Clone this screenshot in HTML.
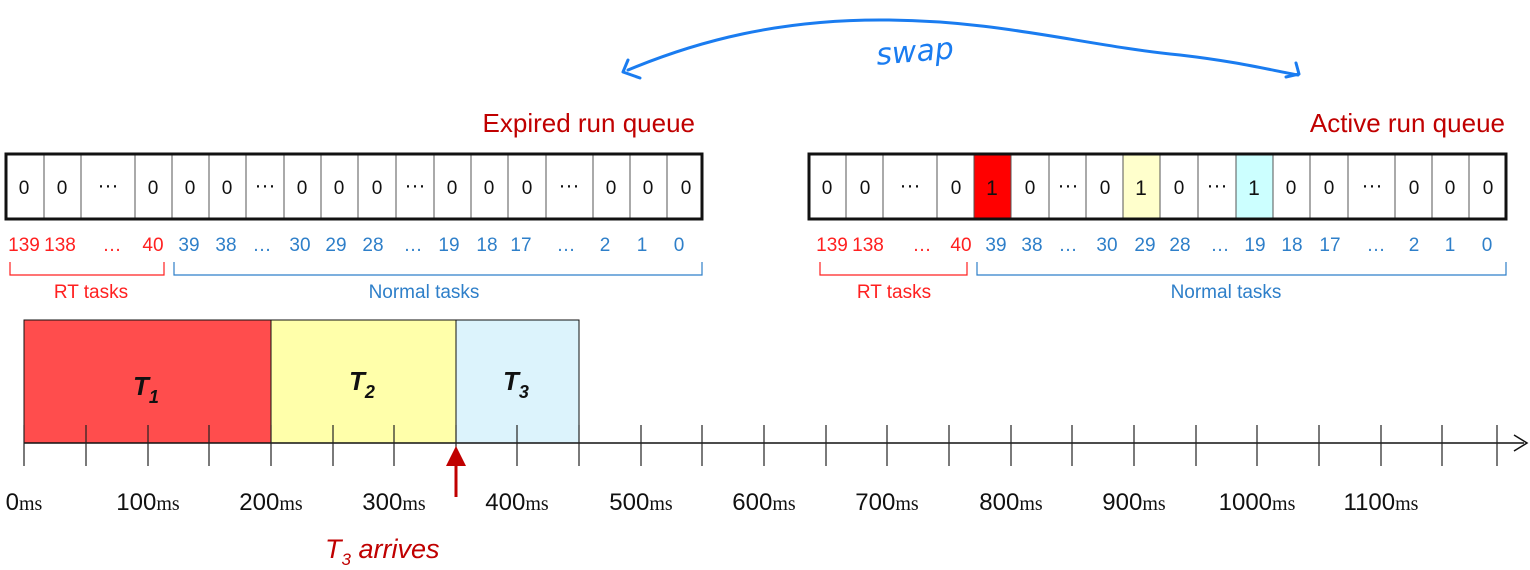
<!DOCTYPE html>
<html><head><meta charset="utf-8"><style>
html,body{margin:0;padding:0;background:#fff;width:1530px;height:570px;overflow:hidden}
text{font-family:"Liberation Sans",Arial,sans-serif}
</style></head><body>
<svg width="1530" height="570" viewBox="0 0 1530 570" xmlns="http://www.w3.org/2000/svg">
<path d="M628,70 C700,40 780,20 880,20 C1000,20 1080,45 1180,55 C1240,62 1270,70 1298,75" fill="none" stroke="#1a7cf0" stroke-width="3" stroke-linecap="round"/>
<path d="M628,60 L623,72 L640,78" fill="none" stroke="#1a7cf0" stroke-width="3" stroke-linecap="round" stroke-linejoin="round"/>
<path d="M1296,63 L1299,74 L1286,77" fill="none" stroke="#1a7cf0" stroke-width="3" stroke-linecap="round" stroke-linejoin="round"/>
<text x="876" y="62" font-size="30" fill="#1a7cf0" font-style="italic" style="font-family:'DejaVu Sans',sans-serif" transform="rotate(-5 910 50)">swap</text>

<text x="695" y="132" font-size="26" fill="#c00000" text-anchor="end">Expired run queue</text>
<text x="1505" y="132" font-size="26" fill="#c00000" text-anchor="end">Active run queue</text>

<g stroke="#555" stroke-width="1" fill="none">
<path d="M44,155V218M81,155V218M135,155V218M172,155V218M209,155V218M246,155V218M284,155V218M321,155V218M358,155V218M396,155V218M434,155V218M471,155V218M508,155V218M546,155V218M593,155V218M630,155V218M667,155V218"/>
</g>
<rect x="6" y="154" width="696" height="65" fill="none" stroke="#111" stroke-width="3"/>
<g font-size="19" text-anchor="middle" fill="#111">
<text x="24" y="194">0</text><text x="62" y="194">0</text><text x="108" y="192" font-size="21">···</text><text x="153" y="194">0</text><text x="190" y="194">0</text><text x="227" y="194">0</text><text x="265" y="192" font-size="21">···</text><text x="302" y="194">0</text><text x="339" y="194">0</text><text x="377" y="194">0</text><text x="415" y="192" font-size="21">···</text><text x="452" y="194">0</text><text x="489" y="194">0</text><text x="527" y="194">0</text><text x="569" y="192" font-size="21">···</text><text x="611" y="194">0</text><text x="648" y="194">0</text><text x="686" y="194">0</text>
</g>
<g font-size="19" text-anchor="middle">
<g fill="#ff2020"><text x="24" y="251">139</text><text x="60" y="251">138</text><text x="112" y="251">…</text><text x="153" y="251">40</text></g>
<g fill="#2e7fc9"><text x="189" y="251">39</text><text x="226" y="251">38</text><text x="262" y="251">…</text><text x="300" y="251">30</text><text x="336" y="251">29</text><text x="373" y="251">28</text><text x="413" y="251">…</text><text x="449" y="251">19</text><text x="487" y="251">18</text><text x="521" y="251">17</text><text x="566" y="251">…</text><text x="605" y="251">2</text><text x="642" y="251">1</text><text x="679" y="251">0</text></g>
</g>
<path d="M10,262V275H164V262" fill="none" stroke="#ff2020" stroke-width="1.2"/>
<path d="M174,262V275H702V262" fill="none" stroke="#2e7fc9" stroke-width="1.2"/>
<text x="91" y="298" font-size="19" fill="#ff2020" text-anchor="middle">RT tasks</text>
<text x="424" y="298" font-size="19" fill="#2e7fc9" text-anchor="middle">Normal tasks</text>

<rect x="974" y="155" width="37" height="63" fill="#ff0000"/>
<rect x="1123" y="155" width="37" height="63" fill="#ffffcc"/>
<rect x="1236" y="155" width="37" height="63" fill="#ccffff"/>
<g stroke="#555" stroke-width="1" fill="none">
<path d="M846,155V218M883,155V218M937,155V218M974,155V218M1011,155V218M1049,155V218M1086,155V218M1123,155V218M1160,155V218M1198,155V218M1236,155V218M1273,155V218M1310,155V218M1348,155V218M1395,155V218M1432,155V218M1469,155V218"/>
</g>
<rect x="809" y="154" width="697" height="65" fill="none" stroke="#111" stroke-width="3"/>
<g font-size="19" text-anchor="middle" fill="#111">
<text x="827" y="194">0</text><text x="865" y="194">0</text><text x="910" y="192" font-size="21">···</text><text x="956" y="194">0</text><text x="992" y="195" font-size="21">1</text><text x="1030" y="194">0</text><text x="1068" y="192" font-size="21">···</text><text x="1105" y="194">0</text><text x="1141" y="195" font-size="21">1</text><text x="1179" y="194">0</text><text x="1217" y="192" font-size="21">···</text><text x="1254" y="195" font-size="21">1</text><text x="1291" y="194">0</text><text x="1329" y="194">0</text><text x="1372" y="192" font-size="21">···</text><text x="1414" y="194">0</text><text x="1450" y="194">0</text><text x="1488" y="194">0</text>
</g>
<g font-size="19" text-anchor="middle">
<g fill="#ff2020"><text x="832" y="251">139</text><text x="868" y="251">138</text><text x="922" y="251">…</text><text x="961" y="251">40</text></g>
<g fill="#2e7fc9"><text x="996" y="251">39</text><text x="1032" y="251">38</text><text x="1068" y="251">…</text><text x="1107" y="251">30</text><text x="1145" y="251">29</text><text x="1180" y="251">28</text><text x="1220" y="251">…</text><text x="1255" y="251">19</text><text x="1292" y="251">18</text><text x="1330" y="251">17</text><text x="1376" y="251">…</text><text x="1414" y="251">2</text><text x="1450" y="251">1</text><text x="1487" y="251">0</text></g>
</g>
<path d="M820,262V275H967V262" fill="none" stroke="#ff2020" stroke-width="1.2"/>
<path d="M977,262V275H1506V262" fill="none" stroke="#2e7fc9" stroke-width="1.2"/>
<text x="894" y="298" font-size="19" fill="#ff2020" text-anchor="middle">RT tasks</text>
<text x="1226" y="298" font-size="19" fill="#2e7fc9" text-anchor="middle">Normal tasks</text>

<rect x="24" y="320" width="247" height="123" fill="#ff4d4d" stroke="#111" stroke-width="1"/>
<rect x="271" y="320" width="185" height="123" fill="#ffffaa" stroke="#111" stroke-width="1"/>
<rect x="456" y="320" width="123" height="123" fill="#dcf3fc" stroke="#111" stroke-width="1"/>
<g font-size="26" font-weight="bold" font-style="italic" fill="#111">
<text x="133" y="395">T<tspan font-size="18" dy="8">1</tspan></text>
<text x="349" y="390">T<tspan font-size="18" dy="8">2</tspan></text>
<text x="503" y="390">T<tspan font-size="18" dy="8">3</tspan></text>
</g>

<line x1="24" y1="443" x2="1524" y2="443" stroke="#111" stroke-width="1.5"/>
<path d="M1514,435L1527,443L1514,451" fill="none" stroke="#111" stroke-width="1.5"/>
<g stroke="#222" stroke-width="1.2">
<path d="M24,425V466M86,425V466M148,425V466M209,425V466M271,425V466M333,425V466M394,425V466M456,425V466M517,425V466M579,425V466M641,425V466M702,425V466M764,425V466M826,425V466M887,425V466M949,425V466M1011,425V466M1072,425V466M1134,425V466M1196,425V466M1257,425V466M1319,425V466M1381,425V466M1442,425V466M1497,425V466"/>
</g>
<g font-size="24" fill="#111" text-anchor="middle">
<text x="24" y="510">0<tspan font-family="Liberation Serif" font-size="20">ms</tspan></text>
<text x="148" y="510">100<tspan font-family="Liberation Serif" font-size="20">ms</tspan></text>
<text x="271" y="510">200<tspan font-family="Liberation Serif" font-size="20">ms</tspan></text>
<text x="394" y="510">300<tspan font-family="Liberation Serif" font-size="20">ms</tspan></text>
<text x="517" y="510">400<tspan font-family="Liberation Serif" font-size="20">ms</tspan></text>
<text x="641" y="510">500<tspan font-family="Liberation Serif" font-size="20">ms</tspan></text>
<text x="764" y="510">600<tspan font-family="Liberation Serif" font-size="20">ms</tspan></text>
<text x="887" y="510">700<tspan font-family="Liberation Serif" font-size="20">ms</tspan></text>
<text x="1011" y="510">800<tspan font-family="Liberation Serif" font-size="20">ms</tspan></text>
<text x="1134" y="510">900<tspan font-family="Liberation Serif" font-size="20">ms</tspan></text>
<text x="1257" y="510">1000<tspan font-family="Liberation Serif" font-size="20">ms</tspan></text>
<text x="1381" y="510">1100<tspan font-family="Liberation Serif" font-size="20">ms</tspan></text>
</g>
<line x1="456" y1="497" x2="456" y2="460" stroke="#c00000" stroke-width="3"/>
<path d="M446,466L456,446L466,466Z" fill="#c00000"/>
<text x="325" y="558" font-size="27" font-style="italic" fill="#c00000">T<tspan font-size="17" dy="7">3</tspan><tspan dy="-7"> arrives</tspan></text>
</svg>
</body></html>
